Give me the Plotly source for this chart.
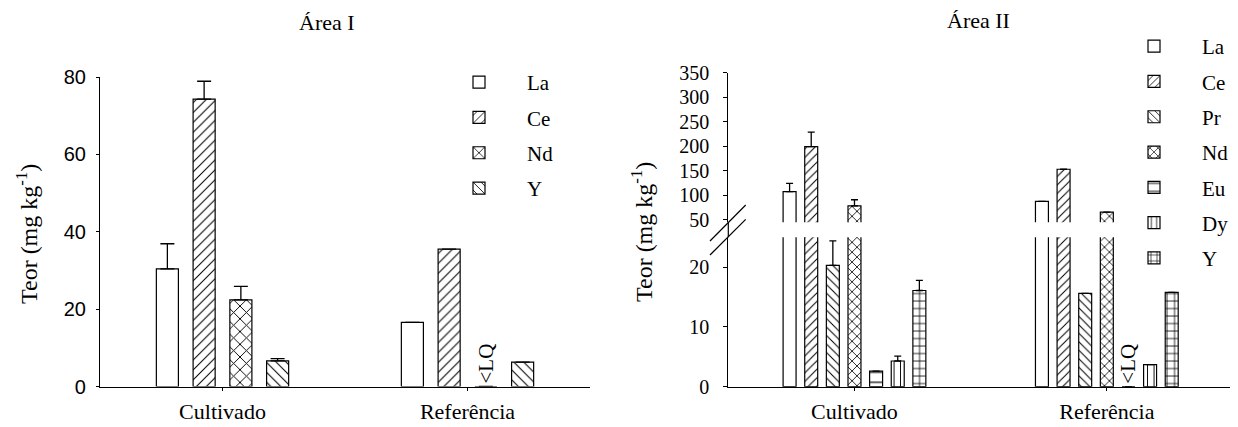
import plotly.graph_objects as go

# ---------------- data ----------------
categories = ["Cultivado", "Referência"]

# Área I
area1_elements = ["La", "Ce", "Nd", "Y"]
la_1 = [30.4, 16.6]
ce_1 = [74.3, 35.5]
nd_1 = [22.4, 0.0]      # Referência below limit of quantification
y_1 = [6.6, 6.3]
la_1_err = [6.5, None]
ce_1_err = [4.6, None]
nd_1_err = [3.5, None]
y_1_err = [0.6, None]
nd_1_text = ["", "<LQ"]

# Área II
area2_elements = ["La", "Ce", "Pr", "Nd", "Eu", "Dy", "Y"]
la_2 = [106.8, 87.0]
ce_2 = [199.0, 152.7]
pr_2 = [20.3, 15.6]
nd_2 = [78.0, 65.2]
eu_2 = [2.6, 0.0]       # Referência below limit of quantification
dy_2 = [4.3, 3.7]
y_2 = [16.1, 15.8]
la_2_err = [17.2, None]
ce_2_err = [29.5, None]
pr_2_err = [4.1, None]
nd_2_err = [12.4, None]
eu_2_err = [None, None]
dy_2_err = [0.8, None]
y_2_err = [1.7, None]
eu_2_text = ["", "<LQ"]

# ---------------- styling ----------------
OFF = 8                      # default page margin of the html body
FW, FH = 1238 - OFF, 427 - OFF
SERIF = "Liberation Serif"
SANS = "Liberation Sans"


def px_x(p):
    return (p - OFF) / FW


def px_y(p):
    return 1 - (p - OFF) / FH


fig = go.Figure()


def add_bar(name, vals, err, shape, size, solidity, xa, ya, legend, group,
            showlegend, text=None, err_w=7):
    fig.add_trace(go.Bar(
        x=categories, y=vals, name=name,
        xaxis=xa, yaxis=ya,
        legend=legend, legendgroup=group, showlegend=showlegend,
        marker=dict(
            color="white",
            line=dict(color="black", width=1.2),
            pattern=dict(shape=shape, fgcolor="black", bgcolor="white",
                         size=size, solidity=solidity, fillmode="replace"),
        ),
        error_y=dict(type="data", array=err, arrayminus=[0] * len(err),
                     symmetric=False, color="black", thickness=1.3,
                     width=err_w, visible=True),
        text=text,
        textposition="outside" if text else None,
        textangle=-90,
        textfont=dict(family=SERIF, size=21, color="black"),
        constraintext="none",
        cliponaxis=False,
        hoverinfo="x+y+name",
    ))


# Área I
area1_vals = [la_1, ce_1, nd_1, y_1]
area1_errs = [la_1_err, ce_1_err, nd_1_err, y_1_err]
area1_shapes = ["", "/", "x", "\\"]
area1_sizes = [7, 7, 9, 7]
area1_solid = [0.15, 0.15, 0.2, 0.15]
area1_texts = [None, None, nd_1_text, None]
for el, v, e, s, sz, so, t in zip(area1_elements, area1_vals, area1_errs, area1_shapes,
                                  area1_sizes, area1_solid, area1_texts):
    add_bar(el, v, e, s, sz, so, "x", "y", "legend", "I-" + el, True, t, 7)

# Área II (broken axis: lower and upper subplot)
area2_vals = [la_2, ce_2, pr_2, nd_2, eu_2, dy_2, y_2]
area2_errs = [la_2_err, ce_2_err, pr_2_err, nd_2_err, eu_2_err, dy_2_err, y_2_err]
area2_shapes = ["", "/", "\\", "x", "-", "|", "+"]
area2_sizes = [6, 6, 6, 7, 10, 6.5, 7.5]
area2_solid = [0.15, 0.17, 0.17, 0.22, 0.12, 0.15, 0.2]
area2_texts = [None, None, None, None, eu_2_text, None, None]
for el, v, e, s, sz, so, t in zip(area2_elements, area2_vals, area2_errs, area2_shapes,
                                  area2_sizes, area2_solid, area2_texts):
    add_bar(el, v, e, s, sz, so, "x2", "y2", "legend2", "II-" + el, True, t, 3.5)
for el, v, e, s, sz, so in zip(area2_elements, area2_vals, area2_errs, area2_shapes,
                               area2_sizes, area2_solid):
    add_bar(el, v, e, s, sz, so, "x3", "y3", "legend2", "II-" + el, False, None, 3.5)

axis_common = dict(showline=True, linecolor="black", linewidth=1.2,
                   ticks="outside", tickcolor="black", tickwidth=1.2,
                   showgrid=False, zeroline=False, automargin=False)

fig.update_layout(
    template="none",
    width=FW, height=FH,
    margin=dict(l=0, r=0, t=0, b=0),
    paper_bgcolor="white", plot_bgcolor="rgba(0,0,0,0)",
    barmode="group", bargap=0.4, bargroupgap=0.4,
    font=dict(family=SERIF, color="black"),
    xaxis=dict(domain=[px_x(100), px_x(590)], anchor="y", type="category",
               range=[-0.5, 1.5], ticklen=3, ticklabelstandoff=2,
               tickfont=dict(family=SERIF, size=22, color="black"), **axis_common),
    yaxis=dict(domain=[px_y(386.5), px_y(77)], anchor="x", range=[0, 80],
               tickvals=[0, 20, 40, 60, 80], ticklen=3, ticklabelstandoff=6,
               tickfont=dict(family=SANS, size=20, color="black"), **axis_common),
    xaxis2=dict(domain=[px_x(728.3), px_x(1233)], anchor="y2", type="category",
                range=[-0.5, 1.5], ticklen=3, ticklabelstandoff=2,
                tickfont=dict(family=SERIF, size=22, color="black"), **axis_common),
    yaxis2=dict(domain=[px_y(386.7), px_y(237.3)], anchor="x2", range=[0, 25],
                tickvals=[0, 10, 20], ticklen=4, ticklabelstandoff=10,
                tickfont=dict(family=SERIF, size=20, color="black"), **axis_common),
    xaxis3=dict(domain=[px_x(728.3), px_x(1233)], anchor="y3", type="category",
                matches="x2", range=[-0.5, 1.5], showline=False, ticks="",
                showticklabels=False, showgrid=False, zeroline=False, automargin=False),
    yaxis3=dict(domain=[px_y(222.3), px_y(72.7)], anchor="x3", range=[44.3, 350],
                tickvals=[50, 100, 150, 200, 250, 300, 350], ticklen=4,
                ticklabelstandoff=10,
                tickfont=dict(family=SERIF, size=20, color="black"), **axis_common),
    legend=dict(x=px_x(431), y=px_y(62), xanchor="left", yanchor="top",
                bgcolor="rgba(0,0,0,0)", borderwidth=0, itemwidth=86,
                tracegroupgap=5, font=dict(family=SERIF, size=21, color="black")),
    legend2=dict(x=px_x(1106), y=px_y(26), xanchor="left", yanchor="top",
                 bgcolor="rgba(0,0,0,0)", borderwidth=0, itemwidth=86,
                 tracegroupgap=5, font=dict(family=SERIF, size=21, color="black")),
    showlegend=True,
)

# Titles and y-axis titles
ann_common = dict(xref="paper", yref="paper", showarrow=False,
                  xanchor="center", yanchor="middle")
fig.add_annotation(text="Área I", x=px_x(327), y=px_y(23),
                   font=dict(family=SERIF, size=22, color="black"), **ann_common)
fig.add_annotation(text="Área II", x=px_x(978), y=px_y(20),
                   font=dict(family=SERIF, size=22, color="black"), **ann_common)
fig.add_annotation(text="Teor (mg kg<sup>-1</sup>)", x=px_x(27), y=px_y(234),
                   textangle=-90, font=dict(family=SERIF, size=24, color="black"),
                   **ann_common)
fig.add_annotation(text="Teor (mg kg<sup>-1</sup>)", x=px_x(642), y=px_y(232),
                   textangle=-90, font=dict(family=SERIF, size=24, color="black"),
                   **ann_common)

# Axis continuity across the break and the "//" break marks
fig.add_shape(type="line", xref="x2 domain", yref="paper", x0=0, x1=0,
              y0=px_y(237.3), y1=px_y(222.3), line=dict(color="black", width=1.2))
for y_lo, y_hi in [(241, 205), (255, 219.3)]:
    fig.add_shape(type="line", xref="paper", yref="paper",
                  x0=px_x(710), y0=px_y(y_lo), x1=px_x(745.7), y1=px_y(y_hi),
                  line=dict(color="black", width=1.2))

fig.write_html("out.html")
